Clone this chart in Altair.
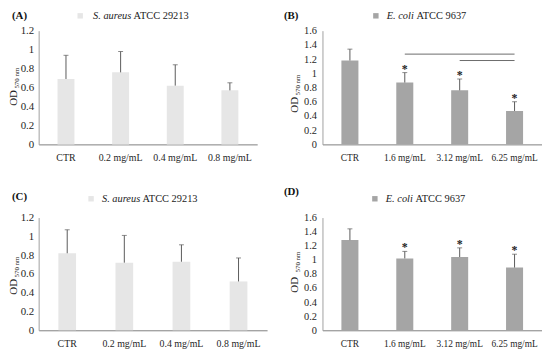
import altair as alt
import pandas as pd

FONT = "Liberation Serif"

# ---------------- data ----------------
cats_aureus = ["CTR", "0.2 mg/mL", "0.4 mg/mL", "0.8 mg/mL"]
cats_coli = ["CTR", "1.6 mg/mL", "3.12 mg/mL", "6.25 mg/mL"]

mean_A = [0.69, 0.76, 0.62, 0.57]
sd_A = [0.25, 0.22, 0.22, 0.08]
star_A = [False, False, False, False]

mean_B = [1.18, 0.87, 0.76, 0.47]
sd_B = [0.16, 0.14, 0.16, 0.13]
star_B = [False, True, True, True]

mean_C = [0.82, 0.72, 0.73, 0.52]
sd_C = [0.25, 0.29, 0.18, 0.25]
star_C = [False, False, False, False]

mean_D = [1.28, 1.02, 1.04, 0.89]
sd_D = [0.16, 0.10, 0.13, 0.19]
star_D = [False, True, True, True]

bracket_from = ["1.6 mg/mL", "3.12 mg/mL"]
bracket_to = ["6.25 mg/mL", "6.25 mg/mL"]
bracket_y = [1.27, 1.18]

yticks_aureus = [0, 0.2, 0.4, 0.6, 0.8, 1.0, 1.2]
yticks_coli = [0, 0.2, 0.4, 0.6, 0.8, 1.0, 1.2, 1.4, 1.6]

LIGHT = "#e6e6e6"
DARK = "#a5a5a5"
ERR = "#5a5a5a"

LABEL_EXPR = ("abs(datum.value - round(datum.value)) < 0.001 ? "
              "format(datum.value, 'd') : format(datum.value, '.1f')")


def panel(letter, cats, means, sds, stars, color, ymax, yticks, species, strain,
          w, h, lay, fs, yfs, brackets=None):
    df = pd.DataFrame({"cat": cats, "mean": means, "sd": sds, "star": stars})
    df["upper"] = df["mean"] + df["sd"]

    xsc = alt.Scale(domain=cats, paddingInner=0.69, paddingOuter=0.345)
    ysc = alt.Scale(domain=[0, ymax], nice=False, zero=True)
    xaxis = alt.Axis(title=None, labelAngle=0, labelFont=FONT, labelFontSize=fs,
                     labelColor="#262626", labelPadding=8, ticks=False, grid=False,
                     labelOverlap=False, domainColor="#808080", domainWidth=1)
    yaxis = alt.Axis(title=None, values=yticks, labelExpr=LABEL_EXPR,
                     labelFont=FONT, labelFontSize=yfs, labelColor="#262626",
                     labelPadding=lay["lp"], labelOverlap=False, labelFlush=False,
                     labelBound=False, ticks=False, grid=False,
                     domainColor="#a0a0a0", domainWidth=1)
    x = alt.X("cat:N", sort=cats, scale=xsc, axis=xaxis)
    base = alt.Chart(df)
    bars = base.mark_bar(color=color).encode(
        x=x, y=alt.Y("mean:Q", scale=ysc, axis=yaxis))
    err = base.mark_rule(color=ERR, strokeWidth=1).encode(
        x=x, y=alt.Y("mean:Q", scale=ysc, axis=yaxis), y2="upper:Q")
    cap = base.mark_tick(color=ERR, size=5, thickness=1, orient="horizontal").encode(
        x=x, y=alt.Y("upper:Q", scale=ysc, axis=yaxis))
    star = base.transform_filter("datum.star").mark_text(
        text="*", font=FONT, fontWeight="bold", fontSize=12, color="#222222",
        baseline="middle", dy=-4).encode(x=x, y=alt.Y("upper:Q", scale=ysc, axis=yaxis))
    layers = [bars, err, cap, star]

    if brackets is not None:
        bdf = pd.DataFrame({"start": brackets[0], "end": brackets[1], "yv": brackets[2]})
        br = alt.Chart(bdf).mark_rule(color="#6a6a6a", strokeWidth=1).encode(
            x=alt.X("start:N", bandPosition=0.5, scale=xsc, axis=xaxis),
            x2=alt.X2("end:N", bandPosition=0.5),
            y=alt.Y("yv:Q", scale=ysc, axis=yaxis))
        layers.append(br)

    one = pd.DataFrame({"k": [0]})
    ann = alt.Chart(one)
    layers += [
        ann.mark_text(text=letter, font=FONT, fontWeight="bold", fontSize=11,
                      align="left", baseline="middle", color="#111111").encode(
            x=alt.value(lay["lx"]), y=alt.value(lay["ly"])),
        ann.mark_square(size=30, color=color, opacity=1).encode(
            x=alt.value(lay["sx"]), y=alt.value(lay["sy"])),
        ann.mark_text(text=species, font=FONT, fontStyle="italic", fontSize=10.5,
                      align="left", baseline="middle", color="#222222").encode(
            x=alt.value(lay["tx"]), y=alt.value(lay["sy"])),
        ann.mark_text(text=strain, font=FONT, fontSize=10.5, align="left",
                      baseline="middle", color="#222222").encode(
            x=alt.value(lay["tx2"]), y=alt.value(lay["sy"])),
        ann.mark_text(text="OD", font=FONT, fontSize=11, angle=270, align="center",
                      baseline="alphabetic", color="#222222").encode(
            x=alt.value(lay["odx"]), y=alt.value(lay["ody"])),
        ann.mark_text(text="570 nm", font=FONT, fontSize=7, angle=270, align="center",
                      baseline="alphabetic", color="#222222").encode(
            x=alt.value(lay["odx"] + 2), y=alt.value(lay["suby"])),
    ]
    return alt.layer(*layers).properties(width=w, height=h)


pA = panel("(A)", cats_aureus, mean_A, sd_A, star_A, LIGHT, 1.2, yticks_aureus,
           "S. aureus", "ATCC 29213", 221, 115,
           dict(lp=5, lx=-27, ly=-15, sx=42, sy=-15, tx=55, tx2=96, odx=-22, ody=68, suby=48),
           10, 11)
pB = panel("(B)", cats_coli, mean_B, sd_B, star_B, DARK, 1.6, yticks_coli,
           "E. coli", "ATCC 9637", 222, 115,
           dict(lp=6, lx=-39, ly=-15, sx=54, sy=-15, tx=65, tx2=95, odx=-25, ody=75, suby=55),
           9.5, 10.5, brackets=(bracket_from, bracket_to, bracket_y))
pC = panel("(C)", cats_aureus, mean_C, sd_C, star_C, LIGHT, 1.2, yticks_aureus,
           "S. aureus", "ATCC 29213", 231, 114,
           dict(lp=5, lx=-27, ly=-21, sx=53, sy=-19, tx=64, tx2=105, odx=-22, ody=70, suby=50),
           10, 11)
pD = panel("(D)", cats_coli, mean_D, sd_D, star_D, DARK, 1.6, yticks_coli,
           "E. coli", "ATCC 9637", 222, 114,
           dict(lp=6, lx=-39, ly=-26, sx=53, sy=-19, tx=64, tx2=94, odx=-25, ody=68, suby=45),
           9.5, 10.5)

chart = alt.concat(
    pA, pB, pC, pD, columns=2, bounds="flush",
    spacing=alt.RowColnumber(row=74, column=56),
).properties(padding=0, background="white").configure_view(
    stroke=None
).configure_axis(labelOverlap=False)

chart.save("out.html", embed_options={"renderer": "svg", "actions": False})
